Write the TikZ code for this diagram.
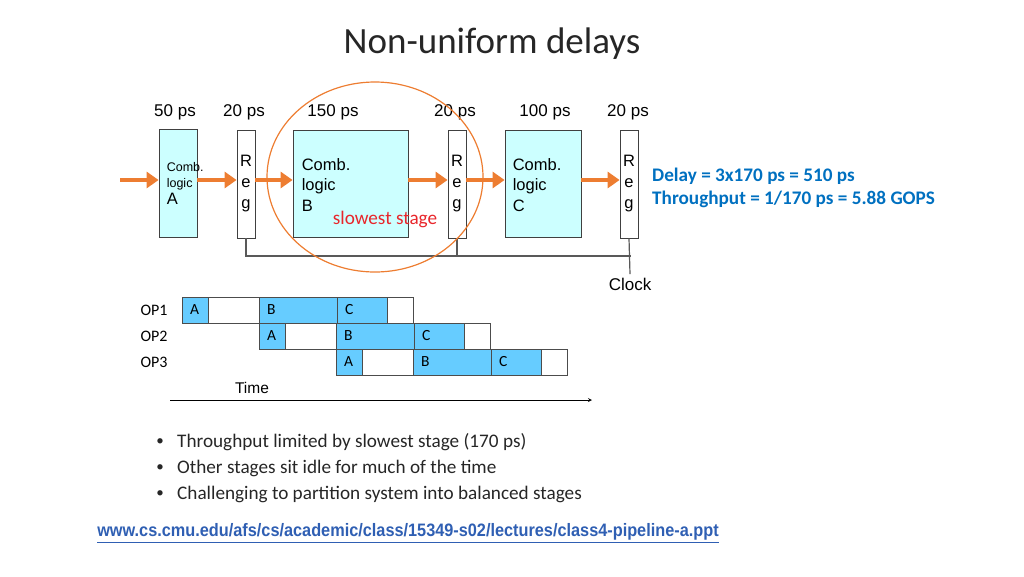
\documentclass[tikz,border=0pt]{standalone}
\usepackage{fontspec}
\setmainfont{Carlito}
\newfontfamily\arialfont{Liberation Sans}
\usetikzlibrary{shapes,positioning,arrows,arrows.meta,calc}
\usepackage{xcolor}
\definecolor{combcyan}{HTML}{CCFFFF}
\definecolor{pipeorange}{HTML}{ED7D31}
\definecolor{slotblue}{HTML}{66CCFF}
\definecolor{noteblue}{HTML}{0070C0}
\definecolor{linkblue}{HTML}{2F5FB3}
\definecolor{slowred}{HTML}{E8262B}

\begin{document}
\begin{tikzpicture}[x=1pt,y=-1pt]

    \useasboundingbox (0,0) rectangle (1024,576);

    \tikzstyle{comb}=[draw=black!75, fill=combcyan, line width=0.8pt, inner sep=0pt, minimum height=108pt];
    \tikzstyle{reg}=[draw=black!75, fill=white, line width=0.8pt, inner sep=0pt, minimum height=108pt, minimum width=18pt, align=center, font=\arialfont\fontsize{16.5}{21}\selectfont];
    \tikzstyle{combtext}=[anchor=west, align=left, inner sep=0pt, font=\arialfont\fontsize{16.5}{20.5}\selectfont];
    \tikzstyle{delay}=[font=\arialfont\fontsize{17}{20}\selectfont];
    \tikzstyle{flow}=[pipeorange, line width=3.5pt, -{Triangle[length=12pt,width=16pt]}];
    \tikzstyle{slot}=[draw=black!70, line width=0.8pt, anchor=west, outer sep=0pt, minimum height=26pt, inner ysep=0pt, inner xsep=8pt, align=left, font=\fontsize{15.5}{17}\selectfont];
    \tikzstyle{bodytext}=[inner sep=0pt, text=black!85, font=\fontsize{19.2}{22}\selectfont];

    % title
    \node (title) at (492,44) [font=\fontsize{37}{40}\selectfont, text=black!85]{Non-uniform delays};

    % stage delays
    \node (dA) at (175,112) [delay]{50 ps};
    \node (dR1) at (244,112) [delay]{20 ps};
    \node (dB) at (333,112) [delay]{150 ps};
    \node (dR2) at (455,112) [delay]{20 ps};
    \node (dC) at (545,112) [delay]{100 ps};
    \node (dR3) at (628,112) [delay]{20 ps};

    % pipeline
    \node (combA) at (178,183) [comb, minimum width=38pt]{};
    \node (reg1) at (246,184) [reg]{R\\e\\g};
    \node (combB) at (350.5,183.5) [comb, minimum width=115pt, minimum height=107pt]{};
    \node (reg2) at (457,184) [reg]{R\\e\\g};
    \node (combC) at (543,183.5) [comb, minimum width=76pt, minimum height=107pt]{};
    \node (reg3) at (629,184) [reg]{R\\e\\g};

    \node (combAtext) at ([xshift=8pt]combA.west) [combtext, font=\arialfont\fontsize{12.5}{16.5}\selectfont]{Comb.\\logic\\{\fontsize{16.5}{16.5}\selectfont A}};
    \node (combBtext) at ([xshift=9pt, yshift=-1.5pt]combB.west) [combtext]{Comb.\\logic\\B};
    \node (combCtext) at ([xshift=8pt, yshift=-1.5pt]combC.west) [combtext]{Comb.\\logic\\C};

    \coordinate (flowline) at (0,180);
    \coordinate (source) at (120,180);
    \draw [flow] (source) -- (combA.west |- flowline);
    \draw [flow] (combA.east |- flowline) -- (reg1.west |- flowline);
    \draw [flow] (reg1.east |- flowline) -- (combB.west |- flowline);
    \draw [flow] (combB.east |- flowline) -- (reg2.west |- flowline);
    \draw [flow] (reg2.east |- flowline) -- (combC.west |- flowline);
    \draw [flow] (combC.east |- flowline) -- (reg3.west |- flowline);

    % clock
    \node (clock) at (630,284) [delay]{Clock};
    \coordinate (clockbus) at (631,256);
    \draw [black!65, line width=1.2pt] (reg1.south) |- (clockbus);
    \draw [black!65, line width=1.2pt] (reg2.south) -- (reg2.south |- clockbus);
    \draw [black!65, line width=1.2pt] (reg3.south) -- (clock.north);

    % slowest stage
    \node (slowRing) at (375,177) [ellipse, draw=pipeorange, line width=1.2pt, minimum width=216pt, minimum height=190pt]{};
    \node (slowLabel) at (385,219) [text=slowred, font=\fontsize{19.2}{22}\selectfont]{slowest stage};

    \node (delayNote) at (652,176) [anchor=west, inner sep=0pt, text=noteblue, font=\bfseries\fontsize{19.2}{22}\selectfont]{Delay = 3x170 ps = 510 ps};
    \node (rateNote) at (652,199) [anchor=west, inner sep=0pt, text=noteblue, font=\bfseries\fontsize{19.2}{22}\selectfont]{Throughput = 1/170 ps = 5.88 GOPS};

    % timing
    \foreach \i/\op in {0/OP1,1/OP2,2/OP3} {
      \pgfmathsetmacro{\xa}{182+77*\i}
      \pgfmathsetmacro{\yy}{310+26*\i}
      \node (op\i) at (154,\yy) [font=\fontsize{16}{17}\selectfont]{\op};
      \node (a\i) at (\xa,\yy) [slot, fill=slotblue, text width=10pt]{A};
      \node (gap\i) at (\xa+26,\yy) [slot, text width=35pt]{};
      \node (b\i) at (\xa+77,\yy) [slot, fill=slotblue, text width=62pt]{B};
      \node (c\i) at (\xa+155,\yy) [slot, fill=slotblue, text width=34pt]{C};
      \node (end\i) at (\xa+205,\yy) [slot, text width=10pt]{};
    }

    \node (time) at (252,388) [font=\arialfont\fontsize{15.5}{18}\selectfont]{Time};
    \coordinate (tStart) at (170,400);
    \coordinate (tEnd) at (592,400);
    \draw [->, >=stealth, line width=0.8pt] (tStart) -- (tEnd);

    % bullets
    \foreach \k/\txt in {0/Throughput limited by slowest stage (170 ps),1/Other stages sit idle for much of the time,2/Challenging to partition system into balanced stages} {
      \node (dot\k) at (160,442+26*\k) [bodytext, font=\fontsize{15}{18}\selectfont]{\textbullet};
      \node (item\k) at (177,442+26*\k) [bodytext, anchor=west]{\txt};
    }

    % source
    \node (srcLink) at (408,533) [text=linkblue, font=\arialfont\bfseries\fontsize{18}{20}\selectfont]{\scalebox{0.905}[1]{\underline{www.cs.cmu.edu/afs/cs/academic/class/15349-s02/lectures/class4-pipeline-a.ppt}}};

\end{tikzpicture}
\end{document}
